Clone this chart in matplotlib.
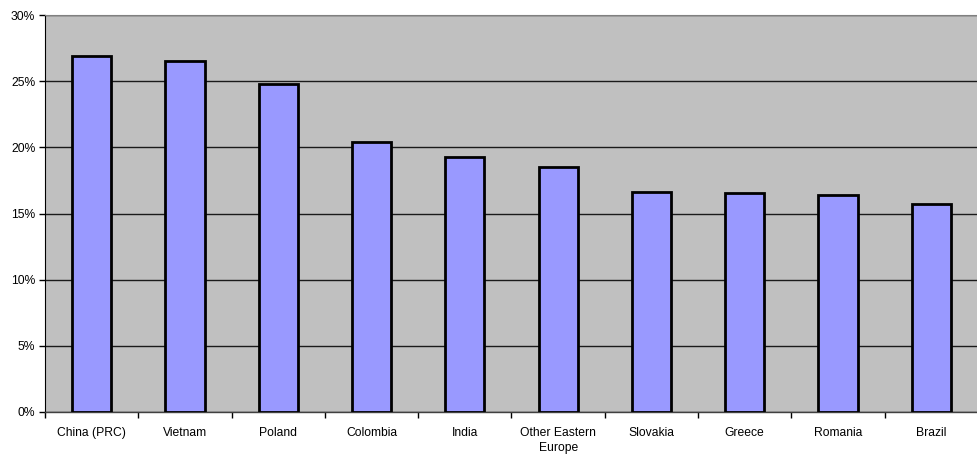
import matplotlib
matplotlib.use("Agg")
import matplotlib.pyplot as plt
from matplotlib.ticker import FixedLocator, PercentFormatter
import numpy as np

categories = ["China (PRC)", "Vietnam", "Poland", "Colombia", "India",
              "Other Eastern\nEurope", "Slovakia", "Greece", "Romania", "Brazil"]
values = [26.9, 26.5, 24.8, 20.4, 19.3, 18.5, 16.6, 16.55, 16.4, 15.7]
yticks = [0, 5, 10, 15, 20, 25, 30]

plt.rcParams['font.family'] = ['Liberation Sans', 'DejaVu Sans']

fig = plt.figure(figsize=(9.77, 4.54), dpi=100)
ax = fig.add_axes([45/977, 1-412/454, 1-45/977 + 0.001, (412-15)/454])
ax.set_facecolor('#C0C0C0')

x = np.arange(len(categories))
ax.bar(x, values, width=0.42, color='#9999FF', edgecolor='black', linewidth=2, zorder=3)

ax.set_xlim(-0.5, len(categories) - 0.5)
ax.set_ylim(0, 30)
ax.set_yticks(yticks)
ax.yaxis.set_major_formatter(PercentFormatter(decimals=0))
ax.yaxis.grid(True, color='#1a1a1a', linewidth=1, zorder=1)
ax.set_axisbelow(True)

ax.set_xticks(x)
ax.set_xticklabels(categories, fontsize=8.7, linespacing=1.3)
ax.tick_params(axis='x', which='major', length=0, pad=11)
ax.xaxis.set_minor_locator(FixedLocator(np.arange(-0.5, len(categories), 1.0)))
ax.tick_params(axis='x', which='minor', length=4, width=1, direction='out', color='black')
ax.tick_params(axis='y', labelsize=8.7, length=4, width=1, direction='out', color='black', pad=3)

ax.spines['right'].set_visible(False)
ax.spines['top'].set_color('#808080')
ax.spines['left'].set_color('black')
ax.spines['bottom'].set_color('#404040')
ax.spines['bottom'].set_linewidth(1)

fig.savefig("out.png", dpi=100)
